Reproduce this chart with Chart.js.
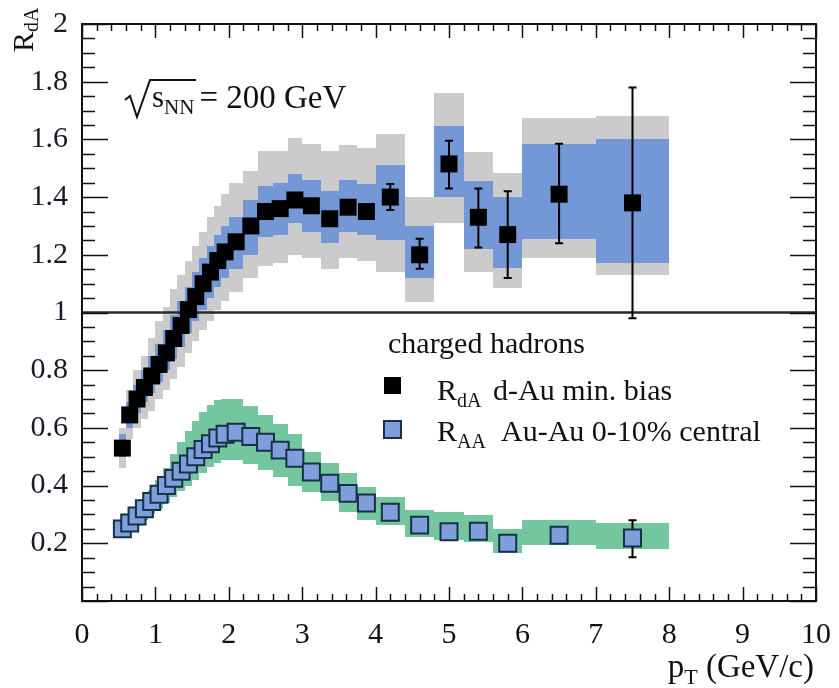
<!DOCTYPE html>
<html>
<head>
<meta charset="utf-8">
<script src="https://cdn.jsdelivr.net/npm/chart.js@4.4.1/dist/chart.umd.min.js"></script>
<style>
  html, body { margin: 0; padding: 0; background: #fff; }
</style>
</head>
<body>
<canvas id="raaChart" width="839" height="688"></canvas>
<script>
// pT bins (GeV/c), shared by both measurements
const pt    = [0.55, 0.65, 0.75, 0.85, 0.95, 1.05, 1.15, 1.25, 1.35, 1.45, 1.55, 1.65, 1.75, 1.85, 1.95,
               2.1, 2.3, 2.5, 2.7, 2.9, 3.125, 3.375, 3.625, 3.875, 4.2, 4.6, 5.0, 5.4, 5.8, 6.5, 7.5];
const binLo = [0.5, 0.6, 0.7, 0.8, 0.9, 1.0, 1.1, 1.2, 1.3, 1.4, 1.5, 1.6, 1.7, 1.8, 1.9,
               2.0, 2.2, 2.4, 2.6, 2.8, 3.0, 3.25, 3.5, 3.75, 4.0, 4.4, 4.8, 5.2, 5.6, 6.0, 7.0];
const binHi = [0.6, 0.7, 0.8, 0.9, 1.0, 1.1, 1.2, 1.3, 1.4, 1.5, 1.6, 1.7, 1.8, 1.9, 2.0,
               2.2, 2.4, 2.6, 2.8, 3.0, 3.25, 3.5, 3.75, 4.0, 4.4, 4.8, 5.2, 5.6, 6.0, 7.0, 8.0];

// R_dA  d-Au min. bias
const rdA = [0.53, 0.645, 0.70, 0.74, 0.78, 0.82, 0.86, 0.91, 0.955, 1.01, 1.055, 1.10, 1.14, 1.18, 1.21,
             1.245, 1.30, 1.35, 1.36, 1.39, 1.37, 1.325, 1.365, 1.35, 1.40, 1.20, 1.515, 1.33, 1.27, 1.41, 1.38];
const rdABlueLo = [0.50, 0.60, 0.65, 0.69, 0.72, 0.76, 0.80, 0.84, 0.88, 0.93, 0.97, 1.01, 1.05, 1.09, 1.12,
                   1.15, 1.20, 1.26, 1.27, 1.31, 1.28, 1.24, 1.28, 1.27, 1.25, 1.12, 1.40, 1.22, 1.155, 1.255, 1.17];
const rdABlueHi = [0.58, 0.69, 0.75, 0.80, 0.85, 0.89, 0.94, 0.99, 1.04, 1.09, 1.14, 1.19, 1.23, 1.27, 1.30,
                   1.33, 1.39, 1.44, 1.45, 1.48, 1.46, 1.42, 1.46, 1.445, 1.51, 1.30, 1.645, 1.455, 1.40, 1.585, 1.60];
const rdAGrayLo = [0.46, 0.56, 0.60, 0.63, 0.66, 0.70, 0.73, 0.77, 0.81, 0.86, 0.90, 0.94, 0.97, 1.01, 1.04,
                   1.07, 1.12, 1.16, 1.17, 1.20, 1.19, 1.15, 1.19, 1.18, 1.14, 1.035, 1.31, 1.14, 1.085, 1.19, 1.13];
const rdAGrayHi = [0.60, 0.73, 0.80, 0.85, 0.91, 0.97, 1.02, 1.08, 1.13, 1.18, 1.23, 1.28, 1.33, 1.37, 1.41,
                   1.45, 1.49, 1.56, 1.56, 1.605, 1.585, 1.56, 1.58, 1.57, 1.62, 1.40, 1.76, 1.555, 1.485, 1.675, 1.68];
const rdAStatLo = [null, null, null, null, null, null, null, null, null, null, null, null, null, null, null,
                   null, null, null, null, null, null, null, null, null, 1.355, 1.152, 1.43, 1.225, 1.12, 1.24, 0.98];
const rdAStatHi = [null, null, null, null, null, null, null, null, null, null, null, null, null, null, null,
                   null, null, null, null, null, null, null, null, null, 1.445, 1.256, 1.595, 1.43, 1.42, 1.585, 1.78];

// R_AA  Au-Au 0-10% central
const raa = [0.25, 0.27, 0.295, 0.32, 0.345, 0.37, 0.40, 0.425, 0.45, 0.475, 0.50, 0.525, 0.545, 0.565, 0.578,
             0.585, 0.57, 0.55, 0.523, 0.495, 0.447, 0.408, 0.373, 0.34, 0.308, 0.263, 0.24, 0.242, 0.20, 0.228, 0.218];
const raaSysLo = [0.225, 0.24, 0.26, 0.28, 0.30, 0.32, 0.34, 0.36, 0.38, 0.40, 0.42, 0.445, 0.465, 0.48, 0.49,
                  0.49, 0.475, 0.455, 0.43, 0.40, 0.378, 0.345, 0.31, 0.28, 0.263, 0.222, 0.211, 0.205, 0.165, 0.194, 0.179];
const raaSysHi = [0.275, 0.30, 0.325, 0.355, 0.385, 0.42, 0.46, 0.51, 0.55, 0.59, 0.625, 0.655, 0.68, 0.695, 0.70,
                  0.70, 0.675, 0.645, 0.615, 0.58, 0.517, 0.477, 0.442, 0.395, 0.36, 0.315, 0.309, 0.298, 0.251, 0.28, 0.271];
const raaStatLo = [null, null, null, null, null, null, null, null, null, null, null, null, null, null, null,
                   null, null, null, null, null, null, null, null, null, null, null, null, null, null, null, 0.152];
const raaStatHi = [null, null, null, null, null, null, null, null, null, null, null, null, null, null, null,
                   null, null, null, null, null, null, null, null, null, null, null, null, null, null, null, 0.28];

// axis ticks
const xTicks = [0, 1, 2, 3, 4, 5, 6, 7, 8, 9, 10];
const xTickLabels = ['0', '1', '2', '3', '4', '5', '6', '7', '8', '9', '10'];
const yTicks = [0.2, 0.4, 0.6, 0.8, 1.0, 1.2, 1.4, 1.6, 1.8, 2.0];
const yTickLabels = ['0.2', '0.4', '0.6', '0.8', '1', '1.2', '1.4', '1.6', '1.8', '2'];

const SERIF = '"Liberation Serif", "DejaVu Serif", serif';

function drawBoxes(ctx, x, y, lo, hi, color) {
    ctx.fillStyle = color;
    for (let i = 0; i < pt.length; i++) {
        const x0 = Math.round(x.getPixelForValue(binLo[i]));
        const x1 = Math.round(x.getPixelForValue(binHi[i]));
        const y0 = Math.round(y.getPixelForValue(hi[i]));
        const y1 = Math.round(y.getPixelForValue(lo[i]));
        ctx.fillRect(x0, y0, x1 - x0, y1 - y0);
    }
}

function drawErrors(ctx, x, y, lo, hi) {
    ctx.strokeStyle = '#000';
    ctx.lineWidth = 2;
    for (let i = 0; i < pt.length; i++) {
        if (lo[i] == null) continue;
        const px = x.getPixelForValue(pt[i]);
        const y0 = y.getPixelForValue(hi[i]);
        const y1 = y.getPixelForValue(lo[i]);
        ctx.beginPath();
        ctx.moveTo(px, y0); ctx.lineTo(px, y1);
        ctx.moveTo(px - 4, y0); ctx.lineTo(px + 4, y0);
        ctx.moveTo(px - 4, y1); ctx.lineTo(px + 4, y1);
        ctx.stroke();
    }
}

function subText(ctx, x, y, main, sub, size, subSize, drop) {
    ctx.font = size + 'px ' + SERIF;
    ctx.fillText(main, x, y);
    const w = ctx.measureText(main).width;
    ctx.font = subSize + 'px ' + SERIF;
    ctx.fillText(sub, x + w, y + drop);
    return x + w + ctx.measureText(sub).width;
}

const bandPlugin = {
    id: 'bands',
    beforeDatasetsDraw(chart) {
        const { ctx, chartArea: a, scales: { x, y } } = chart;
        ctx.save();
        ctx.beginPath();
        ctx.rect(a.left, a.top, a.width, a.height);
        ctx.clip();
        drawBoxes(ctx, x, y, rdAGrayLo, rdAGrayHi, '#cbcbcb');
        drawBoxes(ctx, x, y, rdABlueLo, rdABlueHi, '#7498d6');
        drawBoxes(ctx, x, y, raaSysLo, raaSysHi, '#74c69e');

        // unity line
        ctx.strokeStyle = '#2a2a2a';
        ctx.lineWidth = 2.5;
        ctx.beginPath();
        ctx.moveTo(a.left, y.getPixelForValue(1));
        ctx.lineTo(a.right, y.getPixelForValue(1));
        ctx.stroke();

        drawErrors(ctx, x, y, rdAStatLo, rdAStatHi);
        drawErrors(ctx, x, y, raaStatLo, raaStatHi);
        ctx.restore();
    },
    afterDraw(chart) {
        const { ctx, chartArea: a, scales: { x, y } } = chart;
        ctx.save();

        // frame with inward ticks on all sides
        ctx.strokeStyle = '#111';
        ctx.lineWidth = 2;
        ctx.strokeRect(a.left, a.top, a.width, a.height);
        ctx.lineWidth = 1.5;
        ctx.beginPath();
        for (let i = 0; i <= 50; i++) {
            const px = Math.round(x.getPixelForValue(i * 0.2)) + 0.5;
            const len = i % 5 === 0 ? 14 : 7;
            ctx.moveTo(px, a.bottom); ctx.lineTo(px, a.bottom - len);
            ctx.moveTo(px, a.top); ctx.lineTo(px, a.top + len);
        }
        for (let i = 0; i <= 40; i++) {
            const py = Math.round(y.getPixelForValue(i * 0.05)) + 0.5;
            const len = i % 4 === 0 ? 26 : 13;
            ctx.moveTo(a.left, py); ctx.lineTo(a.left + len, py);
            ctx.moveTo(a.right, py); ctx.lineTo(a.right - len, py);
        }
        ctx.stroke();

        ctx.fillStyle = '#111';
        ctx.textBaseline = 'alphabetic';
        ctx.textAlign = 'left';

        // sqrt(s_NN) = 200 GeV
        ctx.lineWidth = 2;
        ctx.beginPath();
        ctx.moveTo(125, 100);
        ctx.lineTo(130, 96);
        ctx.lineTo(137, 117);
        ctx.lineTo(150, 80);
        ctx.lineTo(196, 80);
        ctx.stroke();
        const e = subText(ctx, 152, 107, 's', 'NN', 31, 21, 7);
        ctx.font = '33px ' + SERIF;
        ctx.fillText('= 200 GeV', e + 5, 108);

        // legend
        ctx.font = '30px ' + SERIF;
        ctx.fillText('charged hadrons', 388, 353);
        ctx.fillStyle = '#000';
        ctx.fillRect(384, 377, 17, 17);
        ctx.fillStyle = '#7f9fdc';
        ctx.strokeStyle = '#173047';
        ctx.lineWidth = 2;
        ctx.fillRect(384, 421, 17, 17);
        ctx.strokeRect(384, 421, 17, 17);
        ctx.fillStyle = '#111';
        subText(ctx, 437, 400, 'R', 'dA', 30, 20, 7);
        ctx.font = '30px ' + SERIF;
        ctx.fillText('d-Au min. bias', 493, 400);
        subText(ctx, 437, 441, 'R', 'AA', 30, 20, 7);
        ctx.font = '30px ' + SERIF;
        ctx.fillText('Au-Au 0-10% central', 501, 441);

        // x title, right aligned
        ctx.font = '33px ' + SERIF;
        const wp = ctx.measureText('p').width;
        const wr = ctx.measureText(' (GeV/c)').width;
        ctx.font = '22px ' + SERIF;
        const wt = ctx.measureText('T').width;
        const xs = 814 - wp - wt - wr;
        const xe = subText(ctx, xs, 677, 'p', 'T', 33, 22, 7);
        ctx.font = '33px ' + SERIF;
        ctx.fillText(' (GeV/c)', xe, 677);

        // y title, rotated
        ctx.translate(33, 52);
        ctx.rotate(-Math.PI / 2);
        subText(ctx, 0, 0, 'R', 'dA', 30, 20, 5);
        ctx.restore();
    }
};

const ctx = document.getElementById('raaChart').getContext('2d');
const raaChart = new Chart(ctx, {
    type: 'scatter',
    data: {
        datasets: [{
            label: 'RdA d-Au min. bias',
            data: pt.map((v, i) => ({ x: v, y: rdA[i] })),
            pointStyle: 'rect',
            pointRadius: 12,
            backgroundColor: '#000',
            borderColor: '#000',
            borderWidth: 0
        }, {
            label: 'RAA Au-Au 0-10% central',
            data: pt.map((v, i) => ({ x: v, y: raa[i] })),
            pointStyle: 'rect',
            pointRadius: 12,
            backgroundColor: '#7f9fdc',
            borderColor: '#173047',
            borderWidth: 2
        }]
    },
    options: {
        responsive: false,
        animation: false,
        layout: { padding: { left: 0, right: 21, top: 23, bottom: 0 } },
        plugins: { legend: { display: false }, tooltip: { enabled: false } },
        scales: {
            x: {
                type: 'linear',
                min: 0,
                max: 10,
                grid: { display: false },
                border: { display: false },
                afterBuildTicks: s => { s.ticks = xTicks.map(v => ({ value: v })); },
                afterFit: s => { s.height = 87; },
                ticks: {
                    color: '#111',
                    padding: 8,
                    maxRotation: 0,
                    font: { family: SERIF, size: 30 },
                    callback: (v, i) => xTickLabels[i]
                }
            },
            y: {
                type: 'linear',
                min: 0,
                max: 2,
                grid: { display: false },
                border: { display: false },
                afterBuildTicks: s => { s.ticks = yTicks.map(v => ({ value: v })); },
                afterFit: s => { s.width = 82; },
                ticks: {
                    color: '#1a1a2a',
                    padding: 6,
                    font: { family: SERIF, size: 30 },
                    callback: (v, i) => yTickLabels[i]
                }
            }
        }
    },
    plugins: [bandPlugin]
});
</script>
</body>
</html>
